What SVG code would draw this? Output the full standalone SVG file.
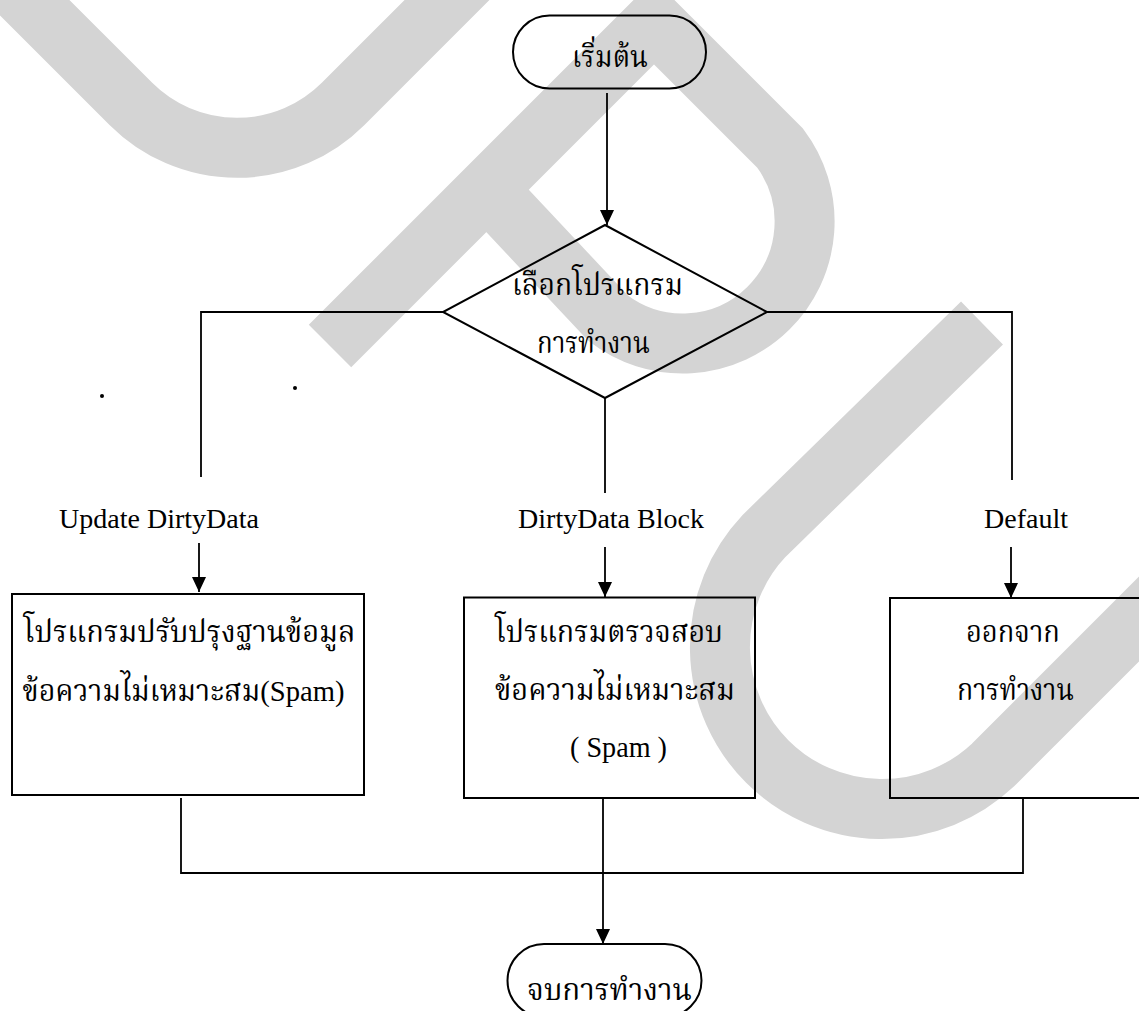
<svg xmlns="http://www.w3.org/2000/svg" width="1139" height="1011" viewBox="0 0 1139 1011">
<style>
.wm{fill:none;stroke:#d4d4d4;stroke-width:60;stroke-linejoin:miter;stroke-linecap:butt}
.shape{fill:none;stroke:#000;stroke-width:2}
.conn{fill:none;stroke:#000;stroke-width:1.8}
.th{font-family:"Liberation Serif","Noto Serif Thai","Noto Sans Thai","Loma","Garuda","DejaVu Sans",serif;font-size:30px;fill:#000}
.lbl{font-family:"Liberation Serif",serif;font-size:28px;fill:#000;text-anchor:middle}
</style>
<defs>
<marker id="arr" viewBox="0 0 15 14" refX="15" refY="7" markerUnits="userSpaceOnUse" markerWidth="15" markerHeight="14" orient="auto">
<path d="M0,0 L15,7 L0,14 z" fill="#000"/>
</marker>
</defs>
<rect width="1139" height="1011" fill="#fff"/>
<g id="watermark">
<path class="wm" d="M-20,-47 L131,104 A150 150 0 0 0 343,104 L500,-53"/>
<path class="wm" d="M330,346 L654,22 L780,148 A122 122 0 0 1 608,318 L487,189"/>
<path class="wm" d="M982,323 L764,536 A162 162 0 0 0 993,765 L1220,538"/>
</g>
<g id="marks">
<circle cx="102" cy="396" r="2" fill="#000"/>
<circle cx="295" cy="388" r="2" fill="#000"/>
</g>
<g id="connectors">
<path class="conn" d="M607,93 L607,225" marker-end="url(#arr)"/>
<path class="conn" d="M443,312 L201,312 L201,477"/>
<path class="conn" d="M767,312 L1012,312 L1012,480"/>
<path class="conn" d="M605,398 L605,493"/>
<path class="conn" d="M199,543 L199,592" marker-end="url(#arr)"/>
<path class="conn" d="M605,547 L605,597" marker-end="url(#arr)"/>
<path class="conn" d="M1011,547 L1011,598" marker-end="url(#arr)"/>
<path class="conn" d="M181,798 L181,873 L1023,873 L1023,798"/>
<path class="conn" d="M603,798 L603,944" marker-end="url(#arr)"/>
<text class="lbl" x="159" y="528">Update DirtyData</text>
<text class="lbl" x="611" y="528">DirtyData Block</text>
<text class="lbl" x="1026" y="528">Default</text>
</g>
<g id="node-start">
<rect class="shape" x="513" y="15.5" width="193" height="73" rx="36.5" ry="36.5"/>
<text class="th" x="572" y="67" textLength="76" lengthAdjust="spacingAndGlyphs">เริ่มต้น</text>
</g>
<g id="node-decision">
<polygon class="shape" points="605,225 767,312 605,398 443,312"/>
<text class="th" x="512" y="295" textLength="171" lengthAdjust="spacingAndGlyphs">เลือกโปรแกรม</text>
<text class="th" x="537" y="353" textLength="113" lengthAdjust="spacingAndGlyphs">การทำงาน</text>
</g>
<g id="node-update">
<rect class="shape" x="12" y="594" width="352" height="201"/>
<text class="th" x="23.5" y="642" textLength="332" lengthAdjust="spacingAndGlyphs">โปรแกรมปรับปรุงฐานข้อมูล</text>
<text class="th" x="22.5" y="701" textLength="322" lengthAdjust="spacingAndGlyphs">ข้อความไม่เหมาะสม(Spam)</text>
</g>
<g id="node-block">
<rect class="shape" x="464" y="597.5" width="291" height="200.5"/>
<text class="th" x="495" y="642" textLength="228" lengthAdjust="spacingAndGlyphs">โปรแกรมตรวจสอบ</text>
<text class="th" x="495" y="700" textLength="240" lengthAdjust="spacingAndGlyphs">ข้อความไม่เหมาะสม</text>
<text class="th" x="570" y="757" textLength="97" lengthAdjust="spacingAndGlyphs">( Spam )</text>
</g>
<g id="node-default">
<rect class="shape" x="890" y="598" width="270" height="200"/>
<text class="th" x="966" y="642" textLength="94" lengthAdjust="spacingAndGlyphs">ออกจาก</text>
<text class="th" x="957" y="700" textLength="117" lengthAdjust="spacingAndGlyphs">การทำงาน</text>
</g>
<g id="node-end">
<rect class="shape" x="507.5" y="944" width="194" height="73" rx="36.5" ry="36.5"/>
<text class="th" x="527" y="1000" textLength="165" lengthAdjust="spacingAndGlyphs">จบการทำงาน</text>
</g>
</svg>
